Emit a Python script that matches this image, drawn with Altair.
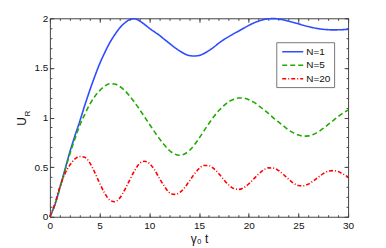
import altair as alt
import pandas as pd

t = [0, 0.5, 1, 1.5, 2, 2.5, 3, 3.5, 4, 4.5, 5, 5.5, 6, 6.5, 7, 7.5, 8, 8.5, 9, 9.5,
     10, 10.5, 11, 11.5, 12, 12.5, 13, 13.5, 14, 14.5, 15, 15.5, 16, 16.5, 17, 17.5,
     18, 18.5, 19, 19.5, 20, 20.5, 21, 21.5, 22, 22.5, 23, 23.5, 24, 24.5, 25, 25.5,
     26, 26.5, 27, 27.5, 28, 28.5, 29, 29.5, 30]

u_n1 = [0, 0.12, 0.29, 0.47, 0.65, 0.81, 0.96, 1.12, 1.27, 1.41, 1.54, 1.65, 1.75, 1.83,
        1.90, 1.95, 1.985, 1.995, 1.975, 1.94, 1.90, 1.865, 1.83, 1.79, 1.75, 1.71, 1.675,
        1.645, 1.625, 1.62, 1.625, 1.645, 1.675, 1.71, 1.75, 1.785, 1.815, 1.845, 1.872,
        1.90, 1.928, 1.952, 1.972, 1.986, 1.995, 1.997, 1.993, 1.984, 1.972, 1.958, 1.944,
        1.93, 1.917, 1.905, 1.896, 1.889, 1.885, 1.883, 1.884, 1.886, 1.889]

u_n5 = [0, 0.12, 0.29, 0.46, 0.63, 0.78, 0.92, 1.03, 1.13, 1.21, 1.27, 1.315, 1.34, 1.338,
        1.315, 1.275, 1.22, 1.155, 1.085, 1.01, 0.935, 0.86, 0.79, 0.725, 0.67, 0.635, 0.62,
        0.63, 0.665, 0.72, 0.79, 0.865, 0.94, 1.01, 1.07, 1.12, 1.16, 1.185, 1.197, 1.195,
        1.18, 1.155, 1.12, 1.08, 1.04, 0.995, 0.955, 0.915, 0.875, 0.845, 0.823, 0.812,
        0.815, 0.83, 0.855, 0.89, 0.93, 0.97, 1.01, 1.045, 1.075]

u_n20 = [0, 0.13, 0.30, 0.43, 0.52, 0.58, 0.608, 0.60, 0.545, 0.45, 0.34, 0.24, 0.17, 0.152,
         0.185, 0.265, 0.365, 0.46, 0.535, 0.56, 0.538, 0.477, 0.39, 0.31, 0.245, 0.226, 0.24,
         0.287, 0.355, 0.426, 0.485, 0.517, 0.515, 0.484, 0.433, 0.373, 0.32, 0.285, 0.276,
         0.293, 0.33, 0.38, 0.43, 0.471, 0.493, 0.49, 0.466, 0.426, 0.38, 0.339, 0.315, 0.312,
         0.329, 0.361, 0.399, 0.435, 0.459, 0.465, 0.455, 0.43, 0.40]

series = ["N=1", "N=5", "N=20"]
colors = ["#2f4cff", "#22aa00", "#ff0000"]
dashes = [[1, 0], [5, 3], [4, 2, 1, 2]]

x_major = [0, 5, 10, 15, 20, 25, 30]
x_minor = [0, 1, 2, 3, 4, 5, 6, 7, 8, 9, 10, 11, 12, 13, 14, 15, 16, 17, 18, 19, 20,
           21, 22, 23, 24, 25, 26, 27, 28, 29, 30]
y_major = [0, 0.5, 1, 1.5, 2]
y_minor = [0, 0.1, 0.2, 0.3, 0.4, 0.5, 0.6, 0.7, 0.8, 0.9, 1.0, 1.1, 1.2, 1.3, 1.4, 1.5,
           1.6, 1.7, 1.8, 1.9, 2.0]

rows = []
for name, vals in zip(series, [u_n1, u_n5, u_n20]):
    for ti, ui in zip(t, vals):
        rows.append({"t": ti, "U": ui, "N": name})
df = pd.DataFrame(rows)

FONT = "Liberation Sans"
TICK = "#444"
xscale = alt.Scale(domain=[0, 30], nice=False, zero=False)
yscale = alt.Scale(domain=[0, 2], nice=False)


def tick_axis(orient, values, size, **kw):
    return alt.Axis(orient=orient, values=values, tickSize={"expr": str(-size)},
                    labels=False, domain=False, grid=False, tickColor=TICK,
                    tickWidth=1, **kw)


legend = alt.Legend(title=None, orient="none", legendX=227, legendY=24,
                    symbolType="M-0.64,0H3.18", symbolSize=121, symbolStrokeWidth=1.5,
                    symbolFillColor="transparent", labelFont=FONT, labelFontSize=10,
                    labelColor="#111", labelOffset=14, rowPadding=1.5, padding=3,
                    strokeColor="#777", fillColor="white")

base = alt.Chart(df)

lines = base.mark_line(strokeWidth=1.6, interpolate="monotone").encode(
    x=alt.X("t:Q", scale=xscale,
            axis=alt.Axis(orient="bottom", values=x_major, ticks=False, tickSize=0,
                          domain=False, grid=False, labelPadding=4, labelFlush=False,
                          labelFont=FONT, labelFontSize=10, labelColor="#111",
                          title="γ₀ t", titleFont=FONT, titleFontSize=12,
                          titleFontWeight="normal", titleColor="#111",
                          titleBaseline="alphabetic", titleY=26)),
    y=alt.Y("U:Q", scale=yscale,
            axis=alt.Axis(orient="left", values=y_major, ticks=False, tickSize=0,
                          domain=False, grid=False, labelPadding=2, labelFlush=False,
                          format="~g", labelFont=FONT, labelFontSize=10,
                          labelColor="#111", title="U", titleFont=FONT, titleFontSize=12,
                          titleFontWeight="normal", titleColor="#111",
                          titleBaseline="alphabetic", titleX=-24, titleY=103)),
    color=alt.Color("N:N", scale=alt.Scale(domain=series, range=colors), legend=legend),
    strokeDash=alt.StrokeDash("N:N", scale=alt.Scale(domain=series, range=dashes),
                              legend=legend),
)

ghost = base.mark_line(opacity=0)

l2 = ghost.encode(
    x=alt.X("t:Q", scale=xscale, axis=tick_axis("bottom", x_major, 4), title=None),
    y=alt.Y("U:Q", scale=yscale,
            axis=tick_axis("left", y_major, 4, title="R", titleFont=FONT,
                           titleFontSize=8, titleFontWeight="normal", titleColor="#111",
                           titleBaseline="alphabetic", titleX=-20, titleY=95)),
)
l3 = ghost.encode(
    x=alt.X("t:Q", scale=xscale, axis=tick_axis("bottom", x_minor, 2), title=None),
    y=alt.Y("U:Q", scale=yscale, axis=tick_axis("left", y_minor, 2), title=None),
)
l4 = ghost.encode(
    x=alt.X("t:Q", scale=xscale, axis=tick_axis("top", x_major, 4), title=None),
    y=alt.Y("U:Q", scale=yscale, axis=tick_axis("right", y_major, 4), title=None),
)
l5 = ghost.encode(
    x=alt.X("t:Q", scale=xscale, axis=tick_axis("top", x_minor, 2), title=None),
    y=alt.Y("U:Q", scale=yscale, axis=tick_axis("right", y_minor, 2), title=None),
)

chart = alt.layer(lines, l2, l3, l4, l5).resolve_axis(
    x="independent", y="independent"
).properties(
    width=299, height=199,
    autosize=alt.AutoSizeParams(type="none"),
    padding={"left": 42, "top": 10, "right": 30, "bottom": 30},
).configure_view(stroke="#444", strokeWidth=1)

chart.save("out.html", embed_options={"renderer": "svg", "actions": False})
